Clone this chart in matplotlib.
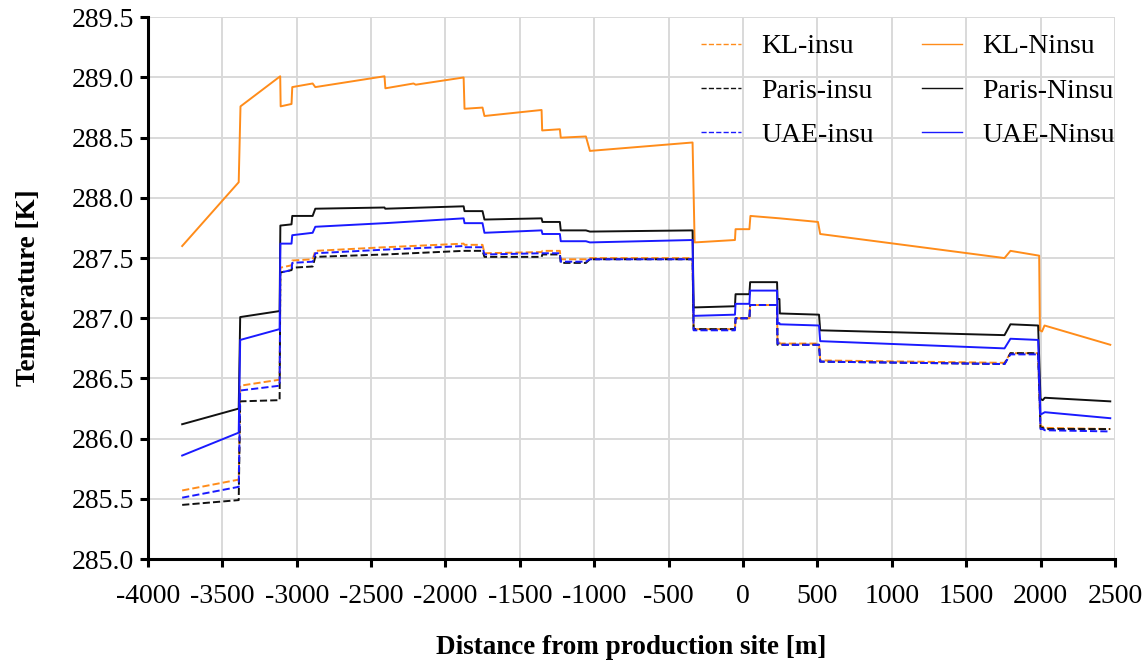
import matplotlib
matplotlib.use("Agg")
from matplotlib import pyplot as plt
from matplotlib.ticker import FormatStrFormatter

plt.rcParams["font.family"] = ["Liberation Serif", "DejaVu Serif"]
plt.rcParams["axes.unicode_minus"] = False

# distance from production site [m]
x_kl_ninsu = [-3770, -3390, -3378, -3111, -3108, -3035, -3030, -2893, -2875, -2410,
              -2404, -2215, -2200, -1878, -1872, -1751, -1738, -1354, -1350, -1231,
              -1225, -1056, -1029, -339, -325, -54, -50, 43, 50, 247,
              504, 519, 1758, 1798, 1991, 1996, 2010, 2027, 2469]
t_kl_ninsu = [287.60, 288.13, 288.76, 289.01, 288.76, 288.78, 288.92, 288.95, 288.92, 289.01,
              288.91, 288.95, 288.94, 289.00, 288.74, 288.75, 288.68, 288.73, 288.56, 288.57,
              288.50, 288.51, 288.39, 288.46, 287.63, 287.65, 287.74, 287.74, 287.85, 287.83,
              287.80, 287.70, 287.50, 287.56, 287.52, 286.90, 286.89, 286.94, 286.78]

# shared x for the other five series
x_steps = [-3770, -3390, -3380, -3115, -3110, -3035, -3030, -2893, -2875, -2410,
           -2405, -1878, -1872, -1751, -1738, -1354, -1348, -1231, -1225, -1056,
           -1029, -339, -332, -54, -50, 43, 48, 229, 232, 245,
           248, 511, 519, 1758, 1798, 1984, 2000, 2015, 2029, 2469]
t_paris_ninsu = [286.12, 286.25, 287.01, 287.06, 287.77, 287.78, 287.85, 287.85, 287.91, 287.92,
                 287.91, 287.93, 287.89, 287.89, 287.82, 287.83, 287.80, 287.80, 287.73, 287.73,
                 287.72, 287.73, 287.09, 287.10, 287.20, 287.20, 287.30, 287.30, 287.16, 287.16,
                 287.04, 287.03, 286.90, 286.86, 286.95, 286.94, 286.33, 286.32, 286.34, 286.31]
t_uae_ninsu = [285.86, 286.05, 286.82, 286.91, 287.62, 287.62, 287.69, 287.71, 287.76, 287.79,
               287.79, 287.83, 287.79, 287.79, 287.71, 287.73, 287.70, 287.70, 287.64, 287.64,
               287.63, 287.65, 287.02, 287.03, 287.12, 287.12, 287.23, 287.23, 286.96, 286.96,
               286.95, 286.94, 286.81, 286.75, 286.83, 286.82, 286.20, 286.21, 286.22, 286.17]
t_kl_insu = [285.57, 285.66, 286.44, 286.49, 287.42, 287.44, 287.48, 287.49, 287.56, 287.59,
             287.59, 287.62, 287.61, 287.61, 287.54, 287.55, 287.56, 287.56, 287.49, 287.49,
             287.50, 287.50, 286.91, 286.91, 287.00, 287.00, 287.11, 287.11, 286.80, 286.80,
             286.79, 286.79, 286.65, 286.63, 286.71, 286.71, 286.10, 286.10, 286.09, 286.08]
t_paris_insu = [285.45, 285.49, 286.31, 286.32, 287.38, 287.40, 287.42, 287.43, 287.51, 287.53,
                287.53, 287.56, 287.56, 287.56, 287.51, 287.51, 287.53, 287.53, 287.46, 287.46,
                287.49, 287.49, 286.91, 286.91, 287.00, 287.00, 287.11, 287.11, 286.78, 286.78,
                286.78, 286.78, 286.64, 286.62, 286.71, 286.71, 286.09, 286.09, 286.08, 286.08]
t_uae_insu = [285.51, 285.60, 286.40, 286.44, 287.38, 287.40, 287.46, 287.47, 287.54, 287.57,
              287.57, 287.60, 287.59, 287.59, 287.53, 287.54, 287.54, 287.54, 287.47, 287.47,
              287.49, 287.49, 286.90, 286.90, 287.00, 287.00, 287.11, 287.11, 286.79, 286.79,
              286.78, 286.78, 286.64, 286.62, 286.70, 286.70, 286.08, 286.08, 286.07, 286.06]

orange, black, blue = "#ff8c1a", "#111111", "#1a1aff"

fig = plt.figure(figsize=(11.47, 6.64), dpi=100)
ax = fig.add_axes([0.129, 0.158, 0.843, 0.816])

# dashed (insulated) first, solid on top; legend order is column-wise
l_kl_i, = ax.plot(x_steps, t_kl_insu, "--", color=orange, lw=1.4, label="KL-insu")
l_pa_i, = ax.plot(x_steps, t_paris_insu, "--", color=black, lw=1.4, label="Paris-insu")
l_ua_i, = ax.plot(x_steps, t_uae_insu, "--", color=blue, lw=1.4, label="UAE-insu")
l_kl_n, = ax.plot(x_kl_ninsu, t_kl_ninsu, "-", color=orange, lw=1.4, label="KL-Ninsu")
l_pa_n, = ax.plot(x_steps, t_paris_ninsu, "-", color=black, lw=1.4, label="Paris-Ninsu")
l_ua_n, = ax.plot(x_steps, t_uae_ninsu, "-", color=blue, lw=1.4, label="UAE-Ninsu")

ax.set_xlim(-4000, 2500)
ax.set_ylim(285.0, 289.5)
ax.set_xticks(range(-4000, 2501, 500))
ax.set_yticks([285.0 + 0.5 * i for i in range(10)])
ax.yaxis.set_major_formatter(FormatStrFormatter("%.1f"))
ax.grid(True, color="#d9d9d9", lw=1.4)
ax.set_axisbelow(True)
for side in ("top", "right"):
    ax.spines[side].set_visible(False)
for side in ("left", "bottom"):
    ax.spines[side].set_linewidth(2.2)
ax.tick_params(direction="out", width=2.2, length=6, labelsize=20)
ax.tick_params(axis="y", pad=4)
ax.tick_params(axis="x", pad=12)

ax.set_xlabel("Distance from production site [m]", fontsize=19.5, fontweight="bold", labelpad=19)
ax.set_ylabel("Temperature [K]", fontsize=19.5, fontweight="bold", labelpad=22)

leg = ax.legend(handles=[l_kl_i, l_pa_i, l_ua_i, l_kl_n, l_pa_n, l_ua_n], ncol=2,
                loc="upper right", bbox_to_anchor=(0.982, 0.9655),
                bbox_transform=fig.transFigure, borderaxespad=0, frameon=False,
                fontsize=20, handlelength=1.45, labelspacing=0.68, columnspacing=1.7,
                handletextpad=0.75)
for h in leg.get_lines():
    h.set_linewidth(1.0)

fig.savefig("out.png", dpi=100)
